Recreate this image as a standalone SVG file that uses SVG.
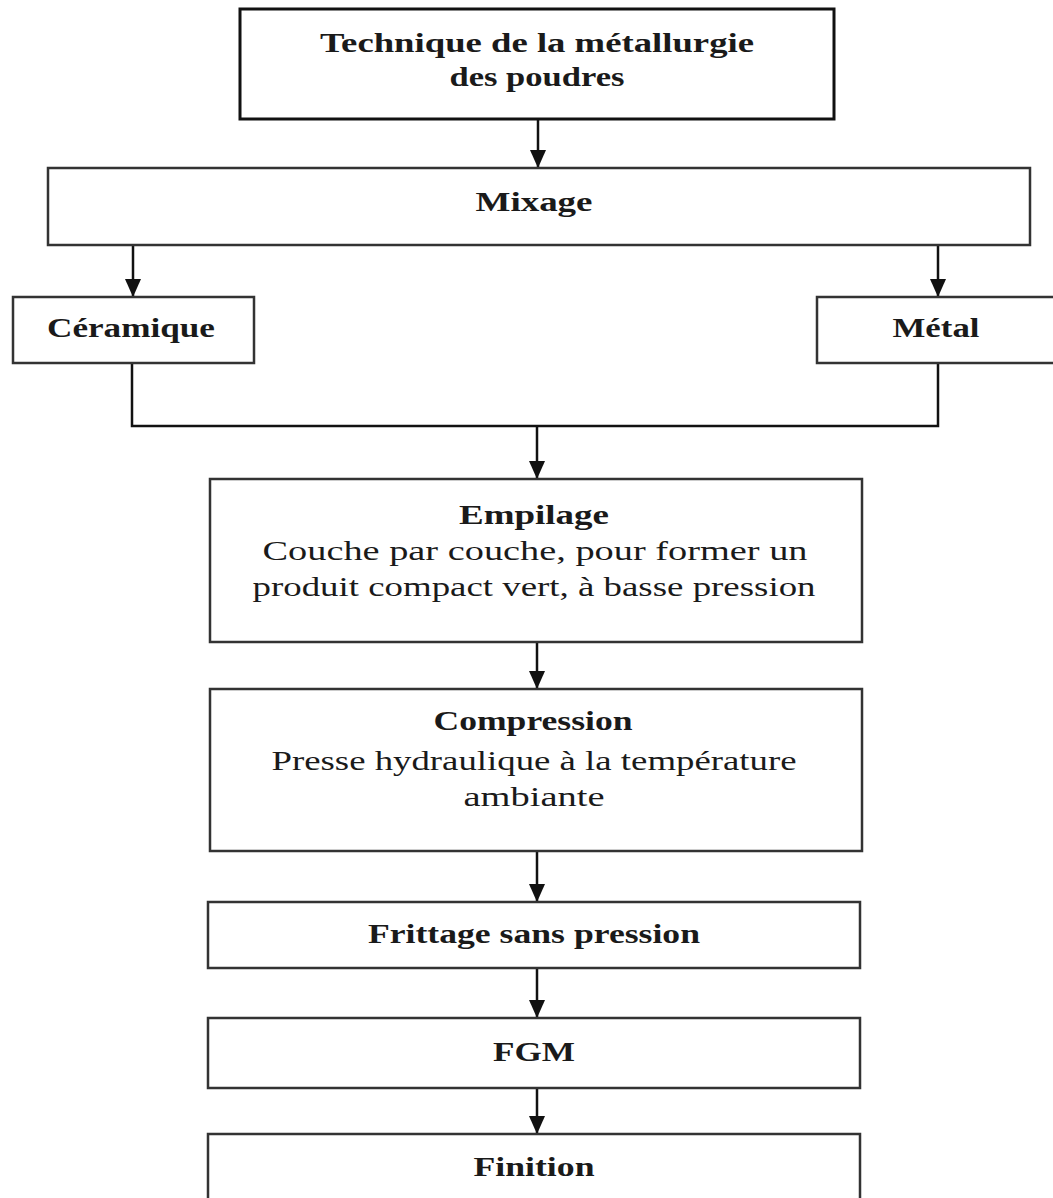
<svg xmlns="http://www.w3.org/2000/svg" width="1053" height="1198" viewBox="0 0 1053 1198">
  <style>
    .box { fill: #ffffff; stroke: #333333; stroke-width: 2.5; }
    .box-strong { fill: #ffffff; stroke: #111111; stroke-width: 3; }
    .title { font-family: "Liberation Serif", "DejaVu Serif", serif; font-weight: bold; font-size: 28px; fill: #1a1a1a; text-anchor: middle; }
    .body { font-family: "Liberation Serif", "DejaVu Serif", serif; font-size: 27px; fill: #1a1a1a; text-anchor: middle; }
    .link { fill: none; stroke: #111111; stroke-width: 2.5; }
  </style>
  <defs>
    <!-- filled triangular head, drawn along +x so orient="auto" follows the line -->
    <marker id="arrow" viewBox="0 0 18 16" refX="18" refY="8" markerWidth="18" markerHeight="16" markerUnits="userSpaceOnUse" orient="auto">
      <path d="M0,0 L18,8 L0,16 Z" fill="#111111"/>
    </marker>
  </defs>

  <rect width="1053" height="1198" fill="#ffffff"/>

  <!-- connectors -->
  <g id="connectors">
    <line class="link" x1="538" y1="119" x2="538" y2="168" marker-end="url(#arrow)"/>
    <line class="link" x1="133" y1="245" x2="133" y2="297" marker-end="url(#arrow)"/>
    <line class="link" x1="938" y1="245" x2="938" y2="297" marker-end="url(#arrow)"/>
    <polyline class="link" points="132,363 132,426 938,426 938,363"/>
    <line class="link" x1="537" y1="426" x2="537" y2="479" marker-end="url(#arrow)"/>
    <line class="link" x1="537" y1="642" x2="537" y2="689" marker-end="url(#arrow)"/>
    <line class="link" x1="537" y1="851" x2="537" y2="902" marker-end="url(#arrow)"/>
    <line class="link" x1="537" y1="968" x2="537" y2="1018" marker-end="url(#arrow)"/>
    <line class="link" x1="537" y1="1088" x2="537" y2="1134" marker-end="url(#arrow)"/>
  </g>

  <!-- nodes -->
  <g id="node-technique">
    <rect class="box-strong" x="240" y="9" width="594" height="110"/>
    <text class="title" x="537" y="52" textLength="434" lengthAdjust="spacingAndGlyphs">Technique de la métallurgie</text>
    <text class="title" x="537" y="86" textLength="175" lengthAdjust="spacingAndGlyphs">des poudres</text>
  </g>

  <g id="node-mixage">
    <rect class="box" x="48" y="168" width="982" height="77"/>
    <text class="title" x="534" y="211" textLength="117" lengthAdjust="spacingAndGlyphs">Mixage</text>
  </g>

  <g id="node-ceramique">
    <rect class="box" x="13" y="297" width="241" height="66"/>
    <text class="title" x="131" y="337" textLength="168" lengthAdjust="spacingAndGlyphs">Céramique</text>
  </g>

  <g id="node-metal">
    <rect class="box" x="817" y="297" width="245" height="66"/>
    <text class="title" x="936" y="337" textLength="87" lengthAdjust="spacingAndGlyphs">Métal</text>
  </g>

  <g id="node-empilage">
    <rect class="box" x="210" y="479" width="652" height="163"/>
    <text class="title" x="534" y="524" textLength="150" lengthAdjust="spacingAndGlyphs">Empilage</text>
    <text class="body" x="535" y="560" textLength="545" lengthAdjust="spacingAndGlyphs">Couche par couche, pour former un</text>
    <text class="body" x="534" y="596" textLength="563" lengthAdjust="spacingAndGlyphs">produit compact vert, à basse pression</text>
  </g>

  <g id="node-compression">
    <rect class="box" x="210" y="689" width="652" height="162"/>
    <text class="title" x="533" y="730" textLength="199" lengthAdjust="spacingAndGlyphs">Compression</text>
    <text class="body" x="534" y="770" textLength="525" lengthAdjust="spacingAndGlyphs">Presse hydraulique à la température</text>
    <text class="body" x="534" y="806" textLength="141" lengthAdjust="spacingAndGlyphs">ambiante</text>
  </g>

  <g id="node-frittage">
    <rect class="box" x="208" y="902" width="652" height="66"/>
    <text class="title" x="534" y="943" textLength="332" lengthAdjust="spacingAndGlyphs">Frittage sans pression</text>
  </g>

  <g id="node-fgm">
    <rect class="box" x="208" y="1018" width="652" height="70"/>
    <text class="title" x="534" y="1061" textLength="82" lengthAdjust="spacingAndGlyphs">FGM</text>
  </g>

  <g id="node-finition">
    <rect class="box" x="208" y="1134" width="652" height="80"/>
    <text class="title" x="534" y="1176" textLength="121" lengthAdjust="spacingAndGlyphs">Finition</text>
  </g>
</svg>
